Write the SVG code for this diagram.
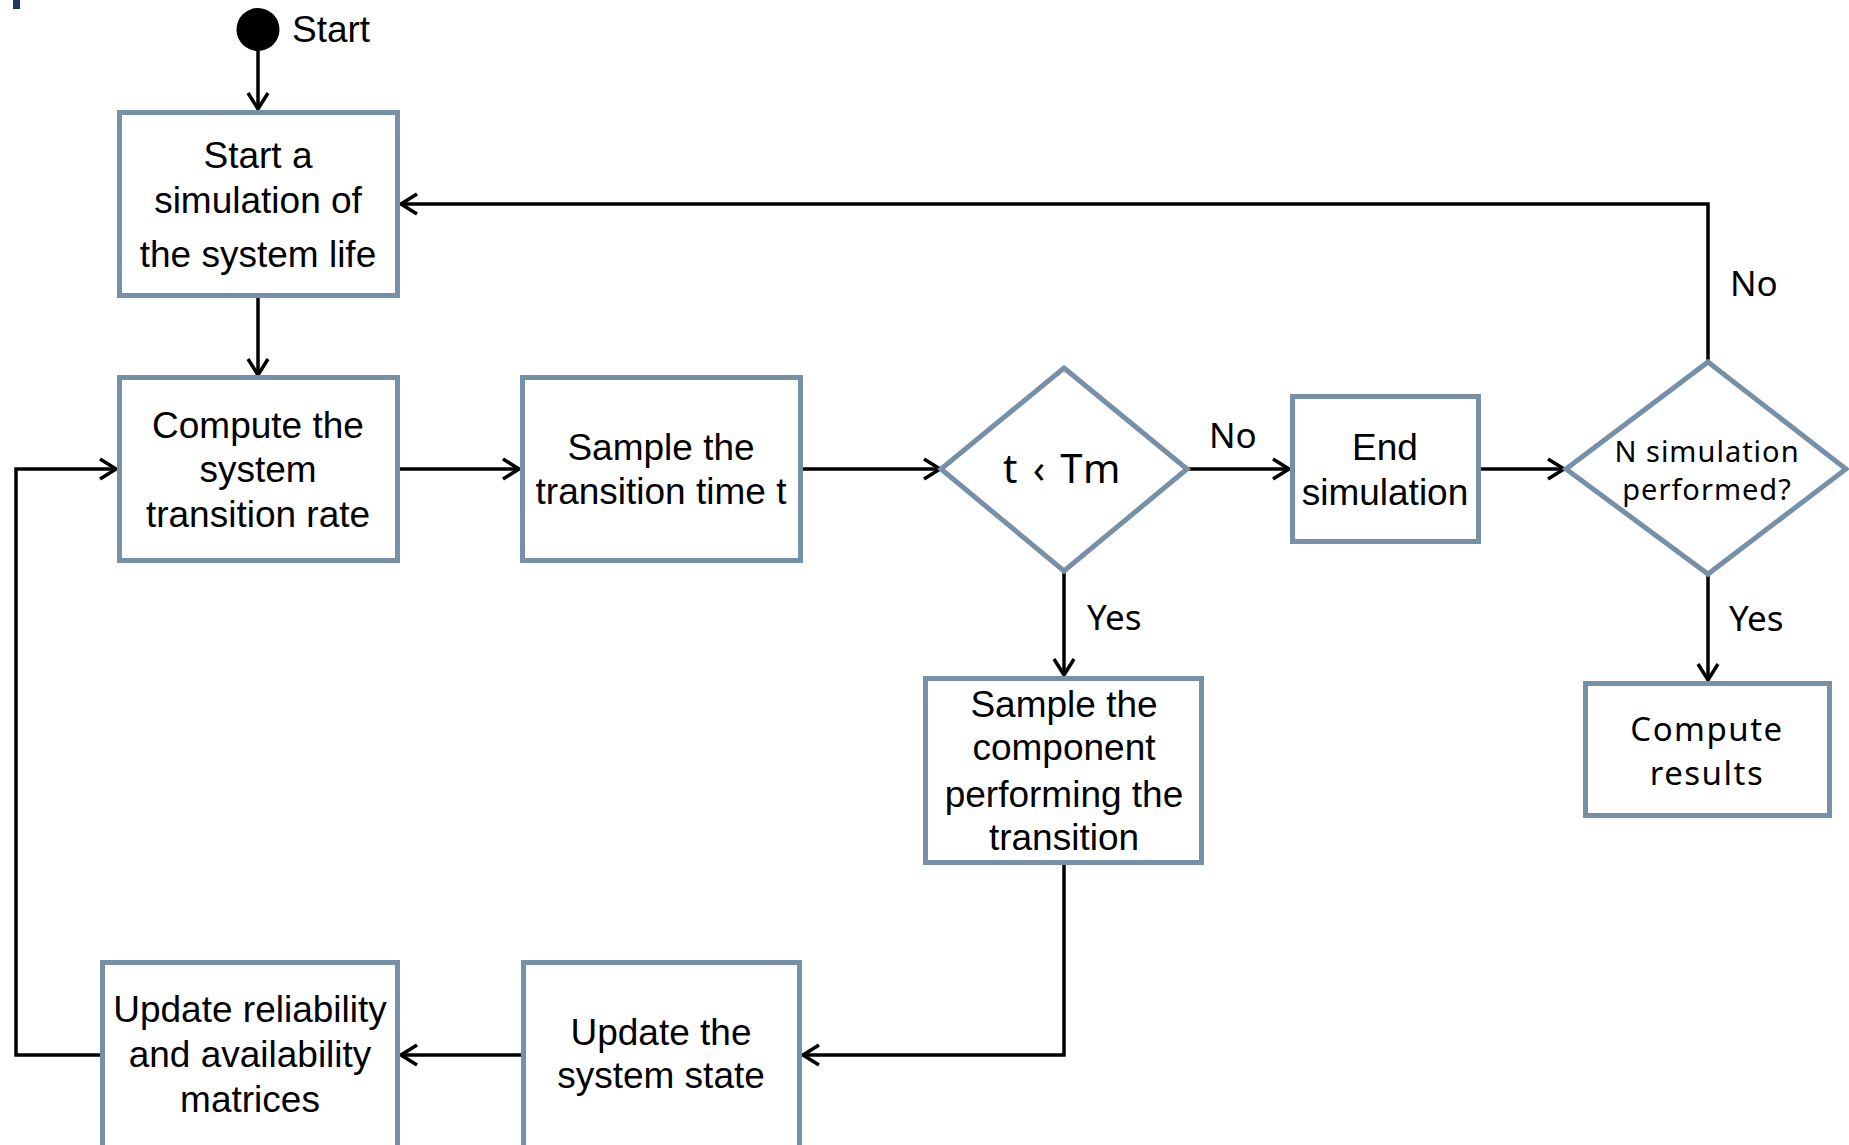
<svg xmlns="http://www.w3.org/2000/svg" width="1849" height="1145" viewBox="0 0 1849 1145">
<style>
.box{fill:#ffffff;stroke:#7590a7;stroke-width:5}
.t{font-family:"Liberation Sans",Arial,sans-serif;font-size:37px;fill:#000;text-anchor:middle}
.n{font-family:"Noto Sans",sans-serif;fill:#000}
.c{fill:none;stroke:#000;stroke-width:3.5}
</style>
<defs>
<marker id="ah" markerUnits="userSpaceOnUse" viewBox="0 0 20 24" refX="19" refY="12" markerWidth="20" markerHeight="24" orient="auto">
<path d="M3,2 L19,12 L3,22" fill="none" stroke="#000" stroke-width="3.5"/>
</marker>
</defs>
<rect x="13" y="0" width="7" height="9" fill="#1f3864"/>
<g id="connectors">
<path class="c" d="M258,51 V109" marker-end="url(#ah)"/>
<path class="c" d="M258,298 V375" marker-end="url(#ah)"/>
<path class="c" d="M400,469 H519" marker-end="url(#ah)"/>
<path class="c" d="M803,469 H940" marker-end="url(#ah)"/>
<path class="c" d="M1187,469 H1289" marker-end="url(#ah)"/>
<path class="c" d="M1481,469 H1564" marker-end="url(#ah)"/>
<path class="c" d="M1708,362 V204 H401" marker-end="url(#ah)"/>
<path class="c" d="M1708,574 V680" marker-end="url(#ah)"/>
<path class="c" d="M1064,571 V675" marker-end="url(#ah)"/>
<path class="c" d="M1064,865 V1055 H803" marker-end="url(#ah)"/>
<path class="c" d="M521,1055 H401" marker-end="url(#ah)"/>
<path class="c" d="M100,1055 H16 V469 H116" marker-end="url(#ah)"/>
<text class="n" x="1209" y="448" font-size="35">No</text>
<text class="n" x="1730" y="296" font-size="35">No</text>
<text class="n" x="1087" y="630" font-size="35">Yes</text>
<text class="n" x="1729" y="631" font-size="35">Yes</text>
</g>
<g id="start">
<circle cx="258" cy="29.5" r="21.5" fill="#000"/>
<text class="t" x="292" y="42" style="text-anchor:start">Start</text>
</g>
<g id="start-simulation">
<rect class="box" x="119.5" y="112.5" width="278" height="183"/>
<text class="t" x="258" y="168">Start a</text>
<text class="t" x="258" y="213">simulation of</text>
<text class="t" x="258" y="267">the system life</text>
</g>
<g id="compute-rate">
<rect class="box" x="119.5" y="377.5" width="278" height="183"/>
<text class="t" x="258" y="438">Compute the</text>
<text class="t" x="258" y="482">system</text>
<text class="t" x="258" y="527">transition rate</text>
</g>
<g id="sample-time">
<rect class="box" x="522.5" y="377.5" width="278" height="183"/>
<text class="t" x="661" y="460">Sample the</text>
<text class="t" x="661" y="504">transition time t</text>
</g>
<g id="decision-t">
<polygon class="box" points="1064,368 1187,469 1064,571 941,469"/>
<text class="n" x="1003" y="483" font-size="40" letter-spacing="2.4">t ‹ Tm</text>
</g>
<g id="end-simulation">
<rect class="box" x="1292.5" y="396.5" width="186" height="145"/>
<text class="t" x="1385" y="460">End</text>
<text class="t" x="1385" y="505">simulation</text>
</g>
<g id="decision-n">
<polygon class="box" points="1708,362 1846,469 1708,574 1566,469"/>
<text class="n" x="1707" y="462" font-size="29" letter-spacing="1" text-anchor="middle">N simulation</text>
<text class="n" x="1707" y="500" font-size="29" letter-spacing="1" text-anchor="middle">performed?</text>
</g>
<g id="compute-results">
<rect class="box" x="1585.5" y="683.5" width="244" height="132"/>
<text class="n" x="1707" y="741" font-size="33" letter-spacing="1.5" text-anchor="middle">Compute</text>
<text class="n" x="1707" y="785" font-size="33" letter-spacing="1.5" text-anchor="middle">results</text>
</g>
<g id="sample-component">
<rect class="box" x="925.5" y="678.5" width="276" height="184"/>
<text class="t" x="1064" y="717">Sample the</text>
<text class="t" x="1064" y="760">component</text>
<text class="t" x="1064" y="807">performing the</text>
<text class="t" x="1064" y="850">transition</text>
</g>
<g id="update-state">
<rect class="box" x="523.5" y="962.5" width="276" height="220"/>
<text class="t" x="661" y="1045">Update the</text>
<text class="t" x="661" y="1088">system state</text>
</g>
<g id="update-matrices">
<rect class="box" x="102.5" y="962.5" width="295" height="220"/>
<text class="t" x="250" y="1022">Update reliability</text>
<text class="t" x="250" y="1067">and availability</text>
<text class="t" x="250" y="1112">matrices</text>
</g>
</svg>
